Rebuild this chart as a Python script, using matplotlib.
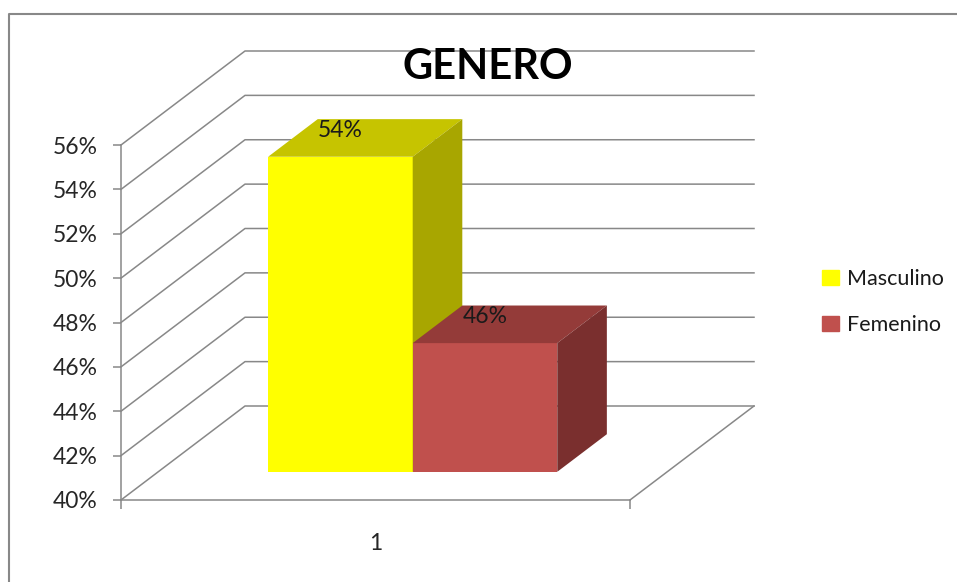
import matplotlib
matplotlib.use('Agg')
import matplotlib.pyplot as plt
import matplotlib.patches as mpatches
import matplotlib.lines as mlines

plt.rcParams['font.family'] = ['Lato', 'DejaVu Sans']

# ── Data ──────────────────────────────────────────────────────────────────────
categories = ['1']
series = ['Masculino', 'Femenino']
values = [54.2, 45.8]
y_ticks = [40, 42, 44, 46, 48, 50, 52, 54, 56]
y_tick_labels = ['40%', '42%', '44%', '46%', '48%', '50%', '52%', '54%', '56%']

# front / top / side shades of each series
FACE = {'Masculino': ('#FFFF00', '#C6C400', '#A8A600'),
        'Femenino': ('#C0504D', '#943B39', '#7A2F2E')}
GRID = '#888888'

# ── Figure layout (front plane of the 3-D box) ───────────────────────────────
W, H = 957, 582
fig = plt.figure(figsize=(W / 100, H / 100), dpi=100)
ax = fig.add_axes([121 / W, (H - 500) / H, 509 / W, 355 / H])
ax.set_xlim(0.5, 1.5)
ax.set_ylim(y_ticks[0], y_ticks[-1])

# depth of the box in data units
DX = 124 / 509 * 1.0
DY = 94 / 355 * (y_ticks[-1] - y_ticks[0])
BAR_W = 0.284
D0, D1 = 0.3, 0.7   # depth range occupied by the bars

# ── Walls and gridlines ──────────────────────────────────────────────────────
x0, x1 = ax.get_xlim()
for v in y_ticks:
    ax.plot([x0, x0 + DX, x1 + DX], [v, v + DY, v + DY],
            color=GRID, lw=1.1, clip_on=False, zorder=1)
ax.plot([x1, x1 + DX], [y_ticks[0], y_ticks[0] + DY],
        color=GRID, lw=1.1, clip_on=False, zorder=1)

# ── Bars ─────────────────────────────────────────────────────────────────────
base = y_ticks[0]
for k, (name, v) in enumerate(zip(series, values)):
    front, top, side = FACE[name]
    left = 1.0 - BAR_W + k * BAR_W
    right = left + BAR_W
    ax.bar(left + D0 * DX, v - base, width=BAR_W, bottom=base + D0 * DY,
           align='edge', color=front, zorder=3 + 3 * k, clip_on=False)
    ax.add_patch(mpatches.Polygon(
        [(left + D0 * DX, v + D0 * DY), (right + D0 * DX, v + D0 * DY),
         (right + D1 * DX, v + D1 * DY), (left + D1 * DX, v + D1 * DY)],
        closed=True, fc=top, ec='none', zorder=4 + 3 * k, clip_on=False))
    ax.add_patch(mpatches.Polygon(
        [(right + D0 * DX, base + D0 * DY), (right + D0 * DX, v + D0 * DY),
         (right + D1 * DX, v + D1 * DY), (right + D1 * DX, base + D1 * DY)],
        closed=True, fc=side, ec='none', zorder=5 + 3 * k, clip_on=False))
    ax.annotate(f'{v:.0f}%', xy=(left + BAR_W / 2 + D0 * DX, v + D0 * DY),
                xytext=(0, 19), textcoords='offset points',
                ha='center', va='center', fontsize=16.5, color='#1a1a1a',
                zorder=20, annotation_clip=False)

# ── Axes styling ─────────────────────────────────────────────────────────────
for s in ['top', 'right']:
    ax.spines[s].set_visible(False)
for s in ['left', 'bottom']:
    ax.spines[s].set_color(GRID)
    ax.spines[s].set_linewidth(1.1)
    ax.spines[s].set_zorder(2)
ax.set_facecolor('none')
ax.set_yticks(y_ticks)
ax.set_yticklabels(y_tick_labels)
ax.tick_params(axis='y', length=6, width=1.1, color=GRID, pad=11,
               labelsize=16.5, labelcolor='#262626')
ax.set_xticks([x0, x1])
ax.set_xticklabels(['', ''])
ax.tick_params(axis='x', length=6.5, width=1.1, color=GRID)
ax.set_xticks([1.0], minor=True)
ax.set_xticklabels(categories, minor=True)
ax.tick_params(axis='x', which='minor', length=0, pad=24,
               labelsize=16.5, labelcolor='#262626')

# ── Title, legend, frame ─────────────────────────────────────────────────────
fig.text(488 / W, 1 - 67 / H, 'GENERO', ha='center', va='center',
         fontsize=30, fontweight='bold', color='black')

handles = [mpatches.Patch(color=FACE[n][0], label=n) for n in series]
fig.legend(handles=handles, loc='center left',
           bbox_to_anchor=(803 / W, 1 - 302 / H), frameon=False,
           fontsize=15.5, handlelength=0.75, handleheight=0.75,
           handletextpad=0.4, labelspacing=1.2, labelcolor='#1a1a1a')

fig.add_artist(mlines.Line2D([9 / W, 9 / W, 1.0], [0.0, 1 - 14 / H, 1 - 14 / H],
                             transform=fig.transFigure, color='#888888', lw=1.5))

fig.savefig('out.png', dpi=100)
